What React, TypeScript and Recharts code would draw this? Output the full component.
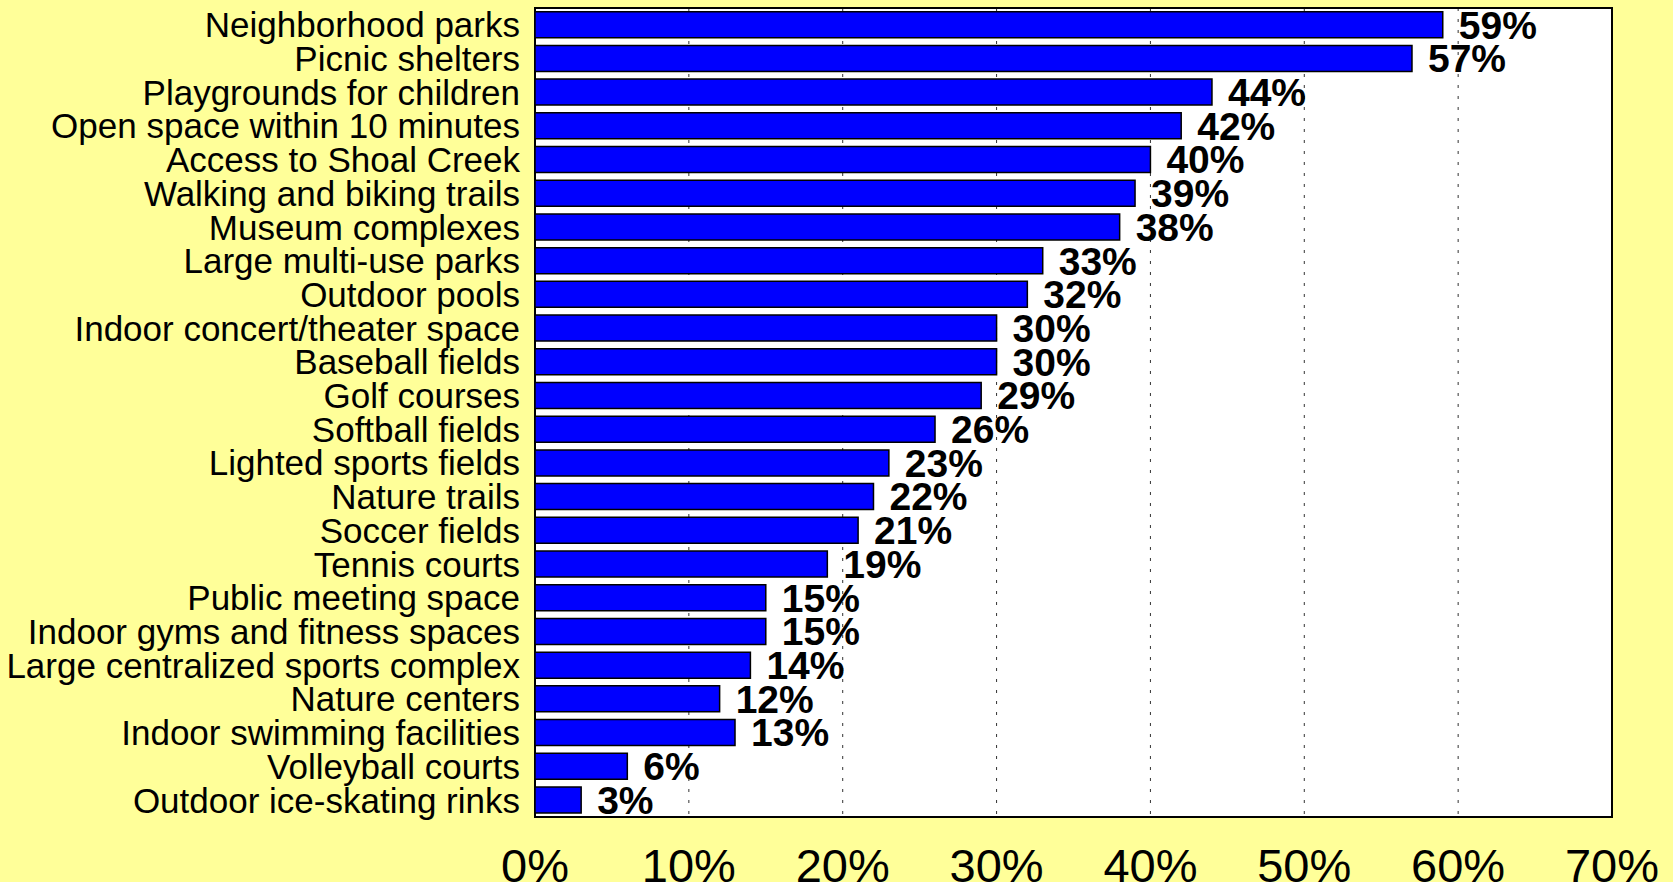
import { Bar, BarChart, CartesianGrid, LabelList, ReferenceArea, XAxis, YAxis } from "recharts";

const categories = [
  "Neighborhood parks",
  "Picnic shelters",
  "Playgrounds for children",
  "Open space within 10 minutes",
  "Access to Shoal Creek",
  "Walking and biking trails",
  "Museum complexes",
  "Large multi-use parks",
  "Outdoor pools",
  "Indoor concert/theater space",
  "Baseball fields",
  "Golf courses",
  "Softball fields",
  "Lighted sports fields",
  "Nature trails",
  "Soccer fields",
  "Tennis courts",
  "Public meeting space",
  "Indoor gyms and fitness spaces",
  "Large centralized sports complex",
  "Nature centers",
  "Indoor swimming facilities",
  "Volleyball courts",
  "Outdoor ice-skating rinks",
];

const percents = [59, 57, 44, 42, 40, 39, 38, 33, 32, 30, 30, 29, 26, 23, 22, 21, 19, 15, 15, 14, 12, 13, 6, 3];

const xTicks = [0, 10, 20, 30, 40, 50, 60, 70];

const font = "'Liberation Sans', Arial, sans-serif";

export default function App() {
  const data = categories.map((name, i) => ({ name, value: percents[i] }));
  return (
    <div
      style={{
        position: "absolute",
        left: 0,
        top: 0,
        width: 1673,
        height: 882,
        background: "#FFFF99",
        fontFamily: font,
        overflow: "hidden",
      }}
    >
      <BarChart
        width={1673}
        height={882}
        data={data}
        layout="vertical"
        margin={{ top: 8, right: 61, left: 0, bottom: 0 }}
        barCategoryGap="11%"
      >
        <CartesianGrid
          horizontal={false}
          stroke="#333"
          strokeDasharray="3 8"
          fill="#ffffff"
          fillOpacity={1}
        />
        <XAxis
          type="number"
          domain={[0, 70]}
          ticks={xTicks}
          tickFormatter={(v) => `${v}%`}
          tick={{ fontSize: 47, fill: "#000", fontFamily: font }}
          tickLine={false}
          axisLine={false}
          tickSize={0}
          tickMargin={32}
          height={65}
          interval={0}
        />
        <YAxis
          type="category"
          dataKey="name"
          width={535}
          tick={{ fontSize: 35, fill: "#000", fontFamily: font }}
          tickLine={false}
          axisLine={false}
          tickSize={0}
          tickMargin={15}
          interval={0}
        />
        <Bar dataKey="value" fill="#0000FF" stroke="#000" strokeWidth={1.5} isAnimationActive={false}>
          <LabelList
            dataKey="value"
            position="right"
            offset={16}
            formatter={(v: number) => `${v}%`}
            style={{ fontSize: 39, fontWeight: "bold", fill: "#000", fontFamily: font }}
          />
        </Bar>
        <ReferenceArea x1={0} x2={70} fill="none" stroke="#000" strokeWidth={2} ifOverflow="visible" />
      </BarChart>
    </div>
  );
}
